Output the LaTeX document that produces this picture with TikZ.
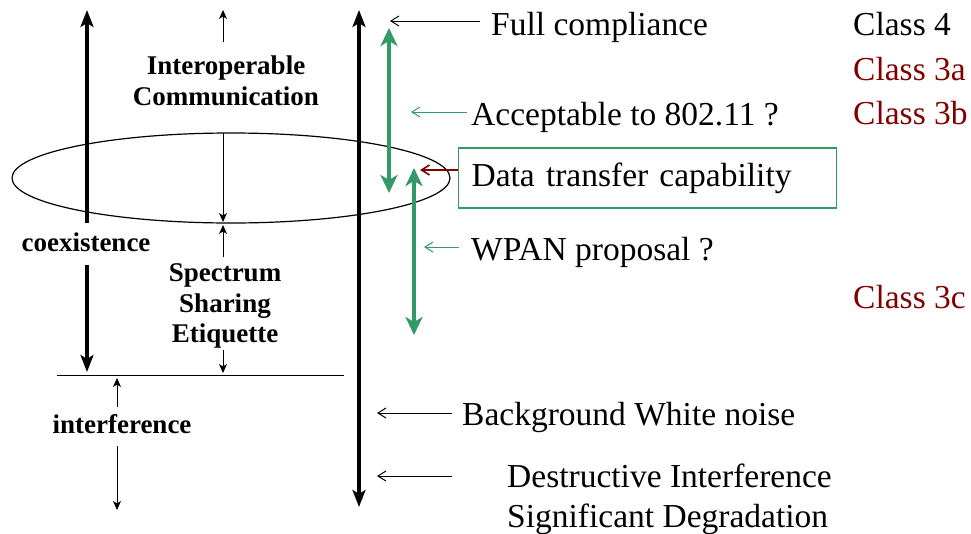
\documentclass[tikz,border=0pt]{standalone}
\usepackage{fontspec}
\setmainfont{Liberation Serif}
\usetikzlibrary{arrows.meta}
\definecolor{pptgreen}{RGB}{51,153,102}
\definecolor{pptred}{RGB}{128,0,0}
\tikzset{
  bigtext/.style={font=\fontsize{33.5}{40}\selectfont, inner sep=0pt},
  boldtext/.style={font=\fontsize{27}{30.5}\selectfont\bfseries, align=center, inner sep=0pt},
  axis/.style={line width=3.2pt, {Stealth[length=17pt,width=13pt,inset=4pt]}-{Stealth[length=17pt,width=13pt,inset=4pt]}},
  axishalf/.style={line width=3.2pt, -{Stealth[length=17pt,width=13pt,inset=4pt]}},
  greenaxis/.style={pptgreen, line width=3.6pt, {Stealth[length=18pt,width=17pt,inset=5pt]}-{Stealth[length=18pt,width=17pt,inset=5pt]}},
  pointer/.style={line width=1pt, -{Straight Barb[length=8pt,width=10pt]}},
  thinarrow/.style={line width=0.9pt, -{Stealth[length=9pt,width=8pt,inset=2.5pt]}}
}
\begin{document}
\begin{tikzpicture}[x=1pt,y=-1pt]
	\useasboundingbox (0,0) rectangle (971,533);
	% left scale: coexistence / interference
	\node[boldtext] (coex) at (86,242) {coexistence};
	\coordinate (coextop) at (87,10);
	\coordinate (coexbot) at (87,372);
	\draw[axishalf] (87,223) -- (coextop);
	\draw[axishalf] (87,265) -- (coexbot);
	\draw[line width=0.9pt] (57,375) coordinate (limitl) -- (344,375) coordinate (limitr);
	\node[boldtext] (interf) at (122,424) {interference};
	\draw[thinarrow] (117,407) -- (117,378);
	\draw[thinarrow] (117,446) -- (117,510);
	% ellipse
	\draw[line width=1.2pt] (231,178) ellipse [x radius=219, y radius=45];
	% middle column
	\node[boldtext] (interop) at (226,81) {Interoperable\\Communication};
	\node[boldtext] (etiq) at (225,306) {Spectrum\\Sharing\\Etiquette};
	\draw[thinarrow] (223,42) -- (223,10);
	\draw[thinarrow] (223,133) -- (223,222);
	\draw[thinarrow] (223,257) -- (223,225);
	\draw[thinarrow] (223,350) -- (223,373);
	% main axis
	\coordinate (maintop) at (359,10);
	\coordinate (mainbot) at (359,507);
	\draw[axis] (mainbot) -- (maintop);
	% green ranges
	\draw[greenaxis] (389,28) -- (389,193);
	\draw[greenaxis] (414,168) -- (414,335);
	% labels on the right
	\node[bigtext, anchor=base west] (fullc) at (491,35) {Full compliance};
	\node[bigtext, anchor=base west] (accept) at (471,125) {Acceptable to 802.11 ?};
	\node[bigtext, draw=pptgreen, line width=1.2pt, anchor=west, minimum height=60pt,
	      text width=352pt, inner xsep=13pt, align=left] (datatx) at (458,178) {Data transfer capability};
	\node[bigtext, anchor=base west] (wpan) at (471,260) {WPAN proposal ?};
	\node[bigtext, anchor=base west] (noise) at (462,425) {Background White noise};
	\node[bigtext, anchor=base west] (destr) at (507,487) {Destructive Interference};
	\node[bigtext, anchor=base west] (degr) at (507,527) {Significant Degradation};
	\draw[pointer] (480,21) -- (390,21);
	\draw[pointer, pptgreen] (467,112) -- (411,112);
	\draw[pointer, pptred, line width=1.6pt] ([yshift=8pt]datatx.west) -- (420,170);
	\draw[pointer, pptgreen] (459,247) -- (424,247);
	\draw[pointer] (452,413) -- (377,413);
	\draw[pointer] (452,476) -- (377,476);
	% classes
	\node[bigtext, anchor=base west] (class4) at (853,35) {Class 4};
	\node[bigtext, anchor=base west, pptred] (class3a) at (853,80) {Class 3a};
	\node[bigtext, anchor=base west, pptred] (class3b) at (853,124) {Class 3b};
	\node[bigtext, anchor=base west, pptred] (class3c) at (853,308) {Class 3c};
\end{tikzpicture}
\end{document}
